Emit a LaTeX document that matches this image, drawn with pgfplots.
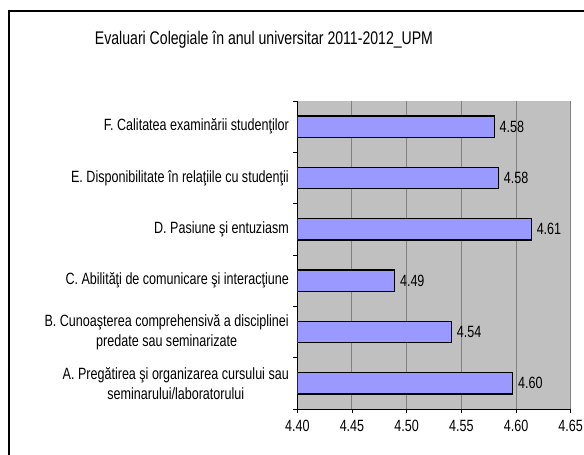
\documentclass[border=0pt]{standalone}
\usepackage{fontspec}
\setmainfont{Liberation Sans}[FakeStretch=0.77]
\usepackage{pgfplots}
\pgfplotsset{compat=1.18}
\definecolor{barblue}{HTML}{9999FF}
\definecolor{plotbg}{HTML}{C0C0C0}
\definecolor{gridgray}{HTML}{808080}
\begin{document}
\begin{tikzpicture}
\path[use as bounding box] (0,0) rectangle (584bp,455bp);
\fill[white] (0,0) rectangle (584bp,455bp);
\draw[line width=2bp] (9bp,-3bp) -- (9bp,443.5bp) -- (590bp,443.5bp);
\node[anchor=base, font=\fontsize{18.3bp}{20bp}\selectfont] at (264bp,410bp) {Evaluari Colegiale în anul universitar 2011-2012\_UPM};
\begin{axis}[
  at={(297.3bp,46bp)}, anchor=south west,
  scale only axis, width=273.4bp, height=308bp,
  xmin=4.40, xmax=4.65, ymin=-0.5, ymax=5.5,
  axis background/.style={fill=plotbg},
  axis x line=bottom, axis y line=left,
  axis line style={-, black, line width=0.9bp},
  xtick={4.40,4.45,4.50,4.55,4.60,4.65},
  xticklabels={4.40,4.45,4.50,4.55,4.60,4.65},
  xmajorgrids, grid style={gridgray, line width=1bp},
  ytick={-0.5,0.5,1.5,2.5,3.5,4.5,5.5},
  yticklabels={},
  extra y ticks={0,1,2,3,4,5},
  extra y tick labels={{A. Pregătirea şi organizarea cursului sau\\seminarului/laboratorului},
    {B. Cunoaşterea comprehensivă a disciplinei\\predate sau seminarizate},
    {C. Abilităţi de comunicare şi interacţiune},
    {D. Pasiune şi entuziasm},
    {E. Disponibilitate în relaţiile cu studenţii},
    {F. Calitatea examinării studenţilor}},
  extra y tick style={tick style={draw=none}, grid=none},
  major tick length=4bp,
  tick style={black, line width=0.8bp},
  tick align=outside,
  yticklabel style={align=center, font=\fontsize{16.3bp}{19.5bp}\selectfont, xshift=-1bp},
  xticklabel style={font=\fontsize{16.3bp}{18bp}\selectfont, yshift=-3.5bp},
  /pgf/number format/assume math mode=true,
]
\addplot[xbar, bar width=21.3bp, fill=barblue, draw=black, line width=1.2bp,
  point meta=x,
  nodes near coords={\pgfmathprintnumber[fixed,zerofill,precision=2]{\pgfplotspointmeta}},
  every node near coord/.append style={anchor=west, xshift=1.5bp, font=\fontsize{16.3bp}{18bp}\selectfont, black}]
  coordinates {(4.597,0) (4.541,1) (4.489,2) (4.614,3) (4.584,4) (4.580,5)};
\end{axis}
\end{tikzpicture}
\end{document}
